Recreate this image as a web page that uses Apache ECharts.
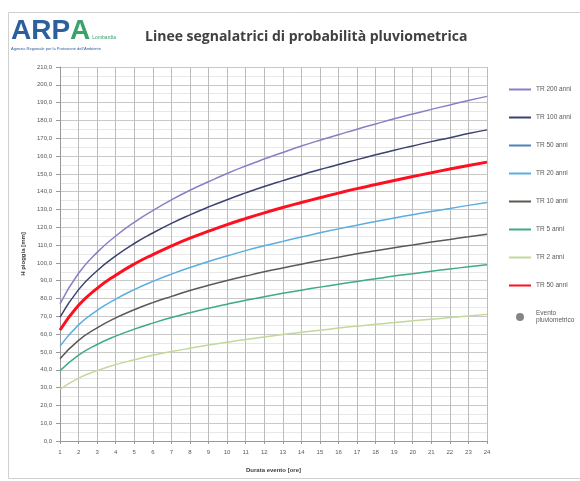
<!DOCTYPE html>
<html>
<head>
<meta charset="utf-8">
<script src="https://cdn.jsdelivr.net/npm/echarts@6/dist/echarts.min.js"></script>
<style>
html,body{margin:0;padding:0;background:#fff;}
#c{width:580px;height:481px;}
</style>
</head>
<body>
<div id="c"></div>
<script>
var durations = [1,2,3,4,5,6,7,8,9,10,11,12,13,14,15,16,17,18,19,20,21,22,23,24];
var tr200 = [77,94.2,105.9,115.1,122.8,129.4,135.4,140.8,145.6,150.2,154.4,158.3,162.0,165.6,168.9,172.0,175.1,178.0,180.9,183.6,186.2,188.7,191.2,193.5];
var tr100 = [69.5,85.0,95.6,103.9,110.9,116.8,122.2,127.0,131.4,135.5,139.3,142.9,146.2,149.4,152.4,155.3,158.0,160.7,163.3,165.7,168.1,170.3,172.6,174.7];
var tr50 = [62.3,76.2,85.7,93.1,99.4,104.7,109.5,113.9,117.8,121.5,124.9,128.1,131.1,133.9,136.6,139.2,141.7,144.0,146.3,148.5,150.6,152.7,154.7,156.6];
var tr20 = [53.3,65.2,73.3,79.7,85.0,89.6,93.7,97.4,100.8,103.9,106.9,109.6,112.1,114.6,116.9,119.1,121.2,123.2,125.2,127.1,128.9,130.6,132.3,133.9];
var tr10 = [46.2,56.5,63.5,69.1,73.7,77.7,81.2,84.5,87.4,90.1,92.6,95.0,97.2,99.3,101.3,103.2,105.1,106.8,108.5,110.1,111.7,113.2,114.7,116.1];
var tr5 = [39.4,48.2,54.2,58.9,62.8,66.2,69.3,72.0,74.5,76.8,79.0,81.0,82.9,84.7,86.4,88.0,89.6,91.1,92.6,93.9,95.3,96.6,97.8,99.0];
var tr2 = [29,35.3,39.5,42.9,45.6,48.1,50.2,52.1,53.9,55.5,57.0,58.4,59.8,61.0,62.2,63.4,64.5,65.5,66.5,67.5,68.4,69.3,70.2,71.1];
var eventoPluviometrico = [];

var seriesDefs = [
  {name:'TR 200 anni', data:tr200, color:'#8a7fc4', width:1.5},
  {name:'TR 100 anni', data:tr100, color:'#3b4170', width:1.5},
  {name:'TR 50 anni', data:tr50, color:'#4f81bd', width:1.5},
  {name:'TR 20 anni', data:tr20, color:'#5aaee0', width:1.5},
  {name:'TR 10 anni', data:tr10, color:'#5a5a55', width:1.5},
  {name:'TR 5 anni', data:tr5, color:'#3daa8a', width:1.5},
  {name:'TR 2 anni', data:tr2, color:'#c3d89a', width:1.5},
  {name:'TR 50 anni ', data:tr50, color:'#ff1020', width:3}
];

function pairs(arr){ return durations.map(function(d,i){ return [d, arr[i]]; }); }

var series = seriesDefs.map(function(s){
  return {
    name:s.name, type:'line', data:pairs(s.data), showSymbol:false, symbol:'none',
    smooth:true, lineStyle:{color:s.color, width:s.width}, itemStyle:{color:s.color},
    emphasis:{disabled:true}, z: s.width>2?5:3
  };
});
series.push({name:'Evento pluviometrico', type:'scatter', data:eventoPluviometrico,
  symbol:'circle', symbolSize:6, itemStyle:{color:'#666'}});

var chart = echarts.init(document.getElementById('c'));
chart.setOption({
  backgroundColor:'#fff',
  animation:false,
  graphic:[
    {type:'rect', shape:{x:8.5,y:12.5,width:580,height:466}, style:{fill:'none', stroke:'#d0d0d0', lineWidth:1}},
    {type:'text', left:11, top:17, style:{
      text:'{a|ARP}{b|A}{c|Lombardia}', rich:{
        a:{fontSize:28, fontWeight:'bold', fill:'#2d5f9e', fontFamily:'Liberation Sans'},
        b:{fontSize:28, fontWeight:'bold', fill:'#3aa36b', fontFamily:'Liberation Sans'},
        c:{fontSize:5, fill:'#3aa36b', padding:[14,0,0,2]}
      }}},
    {type:'text', left:11, top:47, style:{text:"Agenzia Regionale per la Protezione dell'Ambiente", fontSize:4, fill:'#2d5f9e'}},
    {type:'text', left:145, top:30, style:{text:'Linee segnalatrici di probabilità pluviometrica', fontSize:14, fontWeight:'bold', fill:'#404040', fontFamily:'Open Sans'}}
  ],
  grid:{left:60, right:93, top:67, bottom:40},
  legend:{
    orient:'vertical', left:503, top:81, itemGap:21, itemWidth:22, itemHeight:8,
    textStyle:{fontSize:6.5, color:'#595959'},
    formatter:function(n){ return n==='Evento pluviometrico' ? 'Evento\npluviometrico' : n.trim(); },
    data:seriesDefs.map(function(s){return {name:s.name, itemStyle:{opacity:0}};}).concat([{name:'Evento pluviometrico'}])
  },
  xAxis:{
    type:'value', min:1, max:24, interval:1,
    name:'Durata evento [ore]', nameLocation:'middle', nameGap:26,
    nameTextStyle:{fontSize:6, fontWeight:'bold', color:'#404040'},
    axisLine:{show:true, lineStyle:{color:'#999'}},
    axisTick:{show:true, length:3, lineStyle:{color:'#999'}},
    axisLabel:{fontSize:6, color:'#595959', margin:8},
    splitLine:{show:true, lineStyle:{color:'#bcbcbc', width:1}}
  },
  yAxis:{
    type:'value', min:0, max:210, interval:10,
    name:'H pioggia [mm]', nameLocation:'middle', nameGap:23, nameRotate:90,
    nameTextStyle:{fontSize:6, fontWeight:'bold', color:'#404040'},
    axisLine:{show:true, lineStyle:{color:'#999'}},
    axisTick:{show:true, length:4, lineStyle:{color:'#999'}},
    axisLabel:{fontSize:6, color:'#595959', margin:8, formatter:function(v){return v.toFixed(1).replace('.',',');}},
    splitLine:{show:true, lineStyle:{color:'#c8c8c8', width:1}},
    minorTick:{show:false, splitNumber:2},
    minorSplitLine:{show:true, lineStyle:{color:'#e8e8e8', width:1}}
  },
  series:series
});
</script>
</body>
</html>
